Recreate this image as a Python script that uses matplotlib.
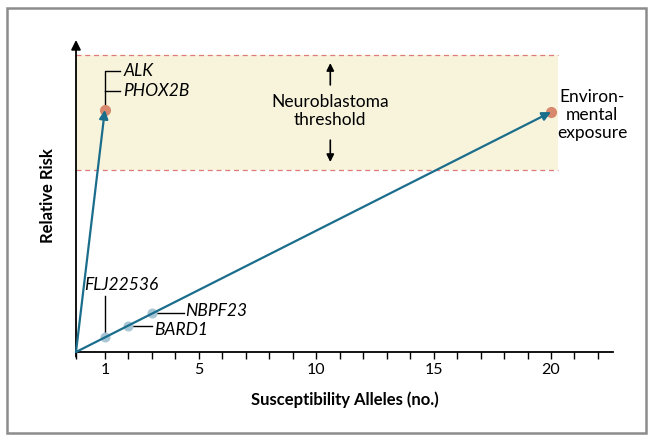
import matplotlib
matplotlib.use("Agg")
import matplotlib.pyplot as plt
from matplotlib.patches import Rectangle

plt.rcParams["font.family"] = ["Lato", "DejaVu Sans"]

# data (x = susceptibility alleles, y = relative risk in arbitrary units)
origin = (-0.23, 0.0)
threshold_low = 5.83
threshold_high = 9.52
band_right = 20.3

strong_x, strong_y = 1, 7.76          # ALK / PHOX2B
env_x, env_y = 20, 7.69               # environmental exposure
weak_names = ["FLJ22536", "BARD1", "NBPF23"]
weak_x = [1, 2, 3]
weak_y = [0.48, 0.83, 1.25]

tick_labels = {1: "1", 5: "5", 10: "10", 15: "15", 20: "20"}
xmax, ymax = 22.64, 10.0

# colors
c_line = "#1b6d8c"
c_orange = "#d8896d"
c_blue = "#a8c6d5"
c_band = "#f8f4dc"
c_dash = "#de7b78"

fig = plt.figure(figsize=(6.54, 4.41), dpi=100)
ax = fig.add_axes([76 / 654, 89 / 441, 537 / 654, 312 / 441])
ax.set_xlim(origin[0], xmax)
ax.set_ylim(0, ymax)
for s in ["top", "right", "left"]:
    ax.spines[s].set_visible(False)
ax.spines["bottom"].set_linewidth(1.3)

# threshold band
ax.fill_between([origin[0], band_right], threshold_low, threshold_high,
                color=c_band, lw=0, zorder=0)
for yv in [threshold_low, threshold_high]:
    ax.plot([origin[0], band_right], [yv, yv], color=c_dash, lw=0.9,
            dashes=(4, 3), zorder=1)

# y axis with arrow
ax.annotate("", xy=(origin[0], ymax), xytext=(origin[0], -0.15),
            arrowprops=dict(arrowstyle="-|>", color="black", lw=1.3,
                            mutation_scale=14, shrinkA=0, shrinkB=0),
            annotation_clip=False)

# x ticks
ticks = [origin[0]] + list(range(1, 23))
ax.set_xticks(ticks)
ax.set_xticklabels([tick_labels.get(t, "") for t in ticks], fontsize=11.5)
ax.tick_params(axis="x", length=5, width=1, direction="out", pad=3)
ax.set_yticks([])

# points
ax.plot([strong_x, env_x], [strong_y, env_y], "o", color=c_orange, ms=7,
        zorder=3)
ax.plot(weak_x, weak_y, "o", color=c_blue, ms=6.2, zorder=3)

# arrows
for tx, ty in [(strong_x, strong_y), (env_x, env_y)]:
    ax.annotate("", xy=(tx, ty), xytext=origin,
                arrowprops=dict(arrowstyle="-|>", color=c_line, lw=1.6,
                                mutation_scale=13, shrinkA=0, shrinkB=0),
                zorder=4)

# gene labels
ax.plot([strong_x, strong_x, strong_x + 0.65], [strong_y, 9.0, 9.0],
        color="black", lw=1, zorder=2)
ax.plot([strong_x, strong_x + 0.65], [8.36, 8.36], color="black", lw=1, zorder=2)
ax.text(strong_x + 0.78, 9.0, "ALK", style="italic", fontsize=12.5, va="center")
ax.text(strong_x + 0.78, 8.36, "PHOX2B", style="italic", fontsize=12.5, va="center")

ax.plot([weak_x[0], weak_x[0]], [weak_y[0], 1.8], color="black", lw=1, zorder=2)
ax.text(weak_x[0] + 0.68, 2.15, weak_names[0], style="italic", fontsize=12.5,
        ha="center", va="center")
ax.plot([weak_x[1], weak_x[1] + 1.0], [weak_y[1], weak_y[1]], color="black",
        lw=1, zorder=2)
ax.text(weak_x[1] + 1.08, weak_y[1] - 0.13, weak_names[1], style="italic",
        fontsize=12.5, va="center")
ax.plot([weak_x[2], weak_x[2] + 1.35], [weak_y[2], weak_y[2]], color="black",
        lw=1, zorder=2)
ax.text(weak_x[2] + 1.42, weak_y[2] + 0.05, weak_names[2], style="italic",
        fontsize=12.5, va="center")

# threshold text and arrows
mid_x = 10.6
ax.text(mid_x, 7.72, "Neuroblastoma\nthreshold", fontsize=12.5, ha="center",
        va="center", linespacing=1.15)
ax.annotate("", xy=(mid_x, 9.26), xytext=(mid_x, 8.56),
            arrowprops=dict(arrowstyle="-|>", color="black", lw=1.2,
                            mutation_scale=11, shrinkA=0, shrinkB=0))
ax.annotate("", xy=(mid_x, 6.09), xytext=(mid_x, 6.79),
            arrowprops=dict(arrowstyle="-|>", color="black", lw=1.2,
                            mutation_scale=11, shrinkA=0, shrinkB=0))

ax.text(21.75, 7.6, "Environ-\nmental\nexposure", fontsize=12.5, ha="center",
        va="center", linespacing=1.15)

ax.set_xlabel("Susceptibility Alleles (no.)", fontsize=12, fontweight="bold",
              labelpad=10)
ax.set_ylabel("Relative Risk", fontsize=12, fontweight="bold")
ax.yaxis.set_label_coords(-0.038, 0.5)

# outer frame
fig.patches.append(Rectangle((7 / 654, 8 / 441), 639 / 654, 425 / 441,
                             transform=fig.transFigure, fill=False,
                             edgecolor="#8c8c8c", lw=1.8))

fig.savefig("out.png", dpi=100)
